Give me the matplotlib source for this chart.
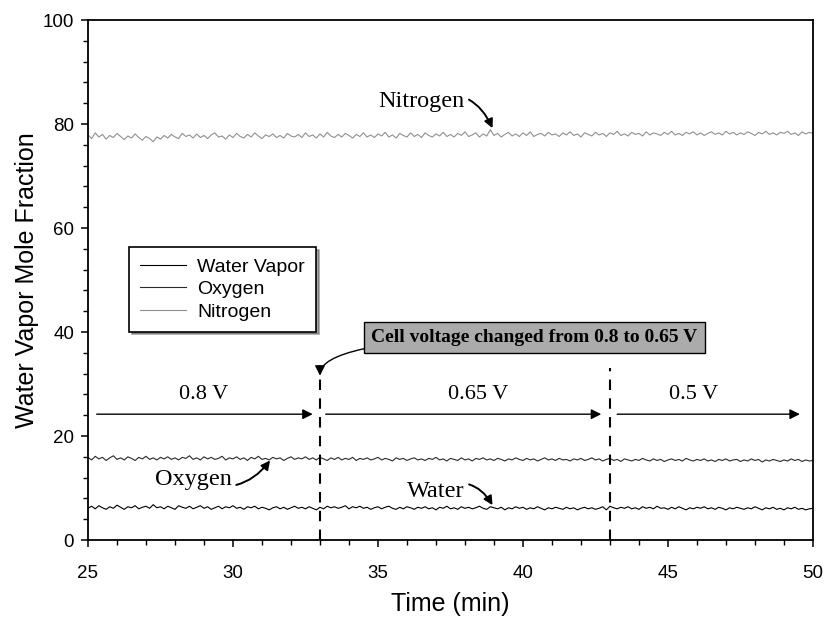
import numpy as np
import matplotlib
matplotlib.use("Agg")
import matplotlib.pyplot as plt
from matplotlib.ticker import MultipleLocator

# Time axis (min), one sample every 0.125 min
time_min = np.linspace(25, 50, 201)

nitrogen = [
    77.9, 77.2, 78.3, 77.5, 78.0, 77.1, 77.8, 77.4, 78.2, 77.6,
    77.0, 77.7, 77.3, 78.1, 77.4, 76.9, 77.6, 77.2, 76.6, 77.5,
    77.1, 77.8, 77.3, 78.0, 77.5, 77.2, 78.2, 77.6, 77.9, 77.3,
    78.1, 77.4, 77.8, 77.2, 77.9, 78.3, 77.5, 77.7, 77.1, 77.9,
    77.4, 78.2, 77.6, 77.3, 78.0, 77.5, 78.3, 77.7, 77.2, 77.9,
    77.6, 78.1, 77.4, 77.8, 77.3, 78.2, 77.7, 77.5, 78.0, 77.4,
    78.3, 77.6, 77.9, 77.3, 78.1, 77.5, 78.4, 77.7, 77.4, 78.0,
    77.5, 78.2, 77.8, 77.3, 78.0, 77.6, 78.3, 77.5, 77.9, 77.4,
    78.1, 77.7, 78.4, 77.5, 77.9, 77.3, 78.2, 77.8, 77.5, 78.3,
    77.6, 78.0, 77.4, 78.3, 77.8, 77.5, 78.1, 77.7, 78.4, 77.6,
    78.0, 77.5, 78.2, 77.8, 78.5, 77.6, 77.9, 78.3, 77.5, 78.1,
    77.7, 78.9, 77.8, 78.2, 77.5, 78.0, 78.4, 77.7, 78.1, 77.6,
    78.3, 77.8, 78.5, 77.6, 78.0, 78.2, 77.7, 78.4, 77.9, 78.1,
    77.6, 78.3, 77.9, 78.5, 77.8, 78.1, 77.5, 78.3, 78.0, 77.7,
    78.4, 77.9, 78.2, 77.6, 78.3, 78.0, 78.6, 77.8, 78.1, 77.7,
    78.4, 78.0, 78.2, 77.7, 78.5, 77.9, 78.3, 78.1, 77.8, 78.4,
    78.0, 78.6, 77.9, 78.2, 77.8, 78.4, 78.1, 78.5, 77.9, 78.3,
    77.8, 78.2, 78.5, 78.0, 78.3, 77.9, 78.6, 78.1, 78.4, 77.9,
    78.3, 78.0, 78.5, 78.2, 77.8, 78.4, 78.1, 78.6, 78.0, 78.3,
    77.9, 78.4, 78.2, 78.6, 78.0, 78.3, 77.8, 78.5, 78.1, 78.4,
    78.2,
]

oxygen = [
    15.9, 15.4, 16.1, 15.6, 15.9, 15.3, 15.8, 16.2, 15.5, 15.8,
    15.4, 16.0, 15.7, 15.3, 15.9, 15.6, 16.1, 15.5, 15.8, 15.4,
    15.9, 15.6, 16.0, 15.5, 15.8, 15.4, 15.9, 15.7, 16.2, 15.5,
    15.8, 15.4, 16.0, 15.6, 15.9, 15.5, 15.7, 16.1, 15.4, 15.8,
    15.6, 16.0, 15.5, 15.8, 15.3, 15.9, 15.6, 16.1, 15.5, 15.7,
    15.4, 15.9, 15.6, 15.8, 15.3, 15.7, 16.0, 15.5, 15.8, 15.6,
    16.0, 15.5, 15.8, 15.4, 15.9, 15.6, 15.3, 15.8, 15.5, 15.9,
    15.4, 15.7, 15.5, 15.9, 15.3, 15.7, 15.5, 15.8, 15.4, 15.6,
    15.9, 15.4, 15.7, 15.5, 15.2, 15.8, 15.5, 15.7, 15.3, 15.6,
    15.8, 15.4, 15.6, 15.3, 15.7, 15.5, 15.9, 15.4, 15.6, 15.2,
    15.7, 15.5, 15.3, 15.8, 15.4, 15.6, 15.2, 15.7, 15.5, 15.8,
    15.4, 15.6, 15.3, 15.7, 15.5, 15.2, 15.6, 15.4, 15.8, 15.5,
    15.3, 15.7, 15.4, 15.6, 15.2, 15.5, 15.8, 15.4, 15.6, 15.3,
    15.7, 15.4, 15.5, 15.2, 15.6, 15.4, 15.7, 15.3, 15.5, 15.8,
    15.4, 15.6, 15.2, 15.5, 15.7, 15.3, 15.5, 15.1, 15.6, 15.4,
    15.2, 15.5, 15.3, 15.7, 15.4, 15.2, 15.6, 15.3, 15.5, 15.1,
    15.4, 15.6, 15.3, 15.5, 15.2, 15.7, 15.4, 15.2, 15.5, 15.3,
    15.6, 15.2, 15.4, 15.1, 15.5, 15.3, 15.6, 15.2, 15.4, 15.5,
    15.1, 15.4, 15.2, 15.6, 15.3, 15.5, 15.0, 15.4, 15.2, 15.5,
    15.3, 15.1, 15.4, 15.2, 15.6, 15.3, 15.5, 15.1, 15.4, 15.2,
    15.3,
]

water_vapor = [
    6.1, 6.5, 6.0, 6.6, 6.2, 5.9, 6.4, 6.1, 6.7, 6.3,
    5.9, 6.4, 6.2, 6.6, 6.0, 6.3, 6.5, 6.1, 6.8, 6.2,
    6.4, 6.0, 6.5, 6.2, 5.9, 6.6, 6.3, 6.1, 6.5, 6.0,
    6.3, 6.6, 6.1, 6.4, 5.9, 6.2, 6.5, 6.0, 6.4, 6.2,
    6.6, 6.1, 6.3, 5.9, 6.4, 6.2, 6.5, 6.0, 6.3, 6.1,
    5.8, 6.2, 6.4, 6.0, 6.3, 5.9, 6.2, 6.5, 6.1, 6.3,
    6.0, 6.4, 6.1, 5.8, 6.3, 6.0, 6.5, 6.2, 6.4, 6.1,
    6.3, 6.6, 6.0, 6.4, 6.2, 6.5, 6.1, 6.3, 5.9, 6.2,
    6.4, 6.0, 6.3, 6.5, 6.1, 5.9, 6.3, 6.0, 6.4, 6.2,
    5.9, 6.3, 6.1, 6.4, 6.0, 6.2, 5.8, 6.3, 6.1, 6.5,
    6.0, 6.2, 5.9, 6.4, 6.1, 6.3, 6.0, 6.2, 6.5, 6.1,
    5.9, 6.4, 6.2, 6.0, 6.3, 5.8, 6.2, 6.0, 6.4, 6.1,
    6.3, 5.9, 6.2, 6.0, 6.4, 6.1, 5.8, 6.2, 6.0, 6.3,
    6.1, 5.9, 6.3, 6.0, 6.2, 5.8, 6.1, 6.3, 6.0, 6.2,
    5.9, 6.1, 6.4, 5.8, 6.5, 6.2, 6.0, 6.3, 6.1, 6.4,
    6.0, 6.2, 5.9, 6.4, 6.1, 6.3, 6.0, 6.5, 6.1, 6.2,
    5.9, 6.3, 6.0, 6.4, 6.1, 5.8, 6.2, 6.0, 6.3, 6.1,
    6.4, 6.0, 6.2, 5.9, 6.3, 6.1, 5.8, 6.2, 6.0, 6.3,
    6.1, 5.9, 6.2, 6.0, 6.4, 6.1, 5.8, 6.2, 6.0, 6.3,
    5.9, 6.1, 5.8, 6.2, 6.0, 6.3, 5.9, 6.1, 5.8, 6.0,
    6.1,
]

series_labels = ["Water Vapor", "Oxygen", "Nitrogen"]
series_colors = ["#000000", "#2a2a2a", "#909090"]

# Voltage steps
switch_times = [33, 43]
voltage_labels = ["0.8 V", "0.65 V", "0.5 V"]
voltage_label_x = [29.0, 38.45, 45.9]
voltage_spans = [(25.3, 32.75), (33.2, 42.7), (43.25, 49.55)]

sans = ["Liberation Sans", "DejaVu Sans"]
serif = ["Liberation Serif", "DejaVu Serif"]

fig = plt.figure(figsize=(8.27, 6.22), dpi=100)
ax = fig.add_axes([0.1064, 0.1318, 0.8766, 0.8360])

ax.plot(time_min, water_vapor, color=series_colors[0], lw=0.8, label=series_labels[0])
ax.plot(time_min, oxygen, color=series_colors[1], lw=0.8, label=series_labels[1])
ax.plot(time_min, nitrogen, color=series_colors[2], lw=0.8, label=series_labels[2])

ax.set_xlim(25, 50)
ax.set_ylim(0, 100)
ax.xaxis.set_major_locator(MultipleLocator(5))
ax.xaxis.set_minor_locator(MultipleLocator(1))
ax.yaxis.set_major_locator(MultipleLocator(20))
ax.yaxis.set_minor_locator(MultipleLocator(4))
ax.tick_params(which="major", direction="out", length=5, width=1.1, labelsize=13.5)
ax.tick_params(axis="x", which="major", pad=13)
ax.tick_params(axis="y", which="major", pad=5)
ax.tick_params(which="minor", direction="out", length=3.5, width=1.0)
for lab in ax.get_xticklabels() + ax.get_yticklabels():
    lab.set_family(sans)
for sp in ax.spines.values():
    sp.set_linewidth(1.3)

ax.set_xlabel("Time (min)", fontsize=18, family=sans, labelpad=7)
ax.set_ylabel("Water Vapor Mole Fraction", fontsize=18, family=sans, labelpad=3)

# Voltage switch markers
ax.vlines(switch_times[0], 0, 31.5, colors="black", linestyles=(0, (5, 4)), lw=1.5)
ax.vlines(switch_times[1], 0, 33.0, colors="black", linestyles=(0, (5, 4)), lw=1.5)

for (x0, x1), lx, lab in zip(voltage_spans, voltage_label_x, voltage_labels):
    ax.annotate("", xy=(x1, 24.2), xytext=(x0, 24.2),
                arrowprops=dict(arrowstyle="-|>", color="black", lw=1.0,
                                mutation_scale=15, shrinkA=0, shrinkB=0))
    ax.text(lx, 27.9, lab, ha="center", va="center",
            fontsize=16, family=serif)

ax.annotate("Cell voltage changed from 0.8 to 0.65 V", xy=(33.0, 31.6),
            xytext=(40.4, 39.0), ha="center", va="center",
            fontsize=14, fontweight="bold", family=serif,
            bbox=dict(boxstyle="square,pad=0.36", fc="#ababab", ec="black", lw=1.0),
            arrowprops=dict(arrowstyle="-|>", color="black", lw=1.0, mutation_scale=15,
                            connectionstyle="angle3,angleA=180,angleB=90",
                            shrinkA=0, shrinkB=0))

# Curve labels
arrow_kw = dict(arrowstyle="-|>", color="black", lw=1.4, mutation_scale=13,
                shrinkA=1, shrinkB=0)
ax.annotate("Nitrogen", xy=(38.95, 79.2), xytext=(38.0, 84.3),
            ha="right", va="center", fontsize=17.5, family=serif,
            arrowprops=dict(connectionstyle="arc3,rad=-0.5", **arrow_kw))
ax.annotate("Oxygen", xy=(31.28, 15.3), xytext=(29.97, 11.7),
            ha="right", va="center", fontsize=17.5, family=serif,
            arrowprops=dict(connectionstyle="arc3,rad=0.4", **arrow_kw))
ax.annotate("Water", xy=(38.95, 6.7), xytext=(38.0, 9.4),
            ha="right", va="center", fontsize=17.5, family=serif,
            arrowprops=dict(connectionstyle="arc3,rad=-0.5", **arrow_kw))

leg = ax.legend(loc="upper left", bbox_to_anchor=(0.0566, 0.563), borderaxespad=0,
                fancybox=False, edgecolor="black", framealpha=1, shadow=True,
                prop={"family": sans, "size": 14}, handlelength=2.4,
                borderpad=0.55, labelspacing=0.26, handletextpad=0.57)
leg.get_frame().set_linewidth(1.2)

fig.savefig("out.png", dpi=100)
